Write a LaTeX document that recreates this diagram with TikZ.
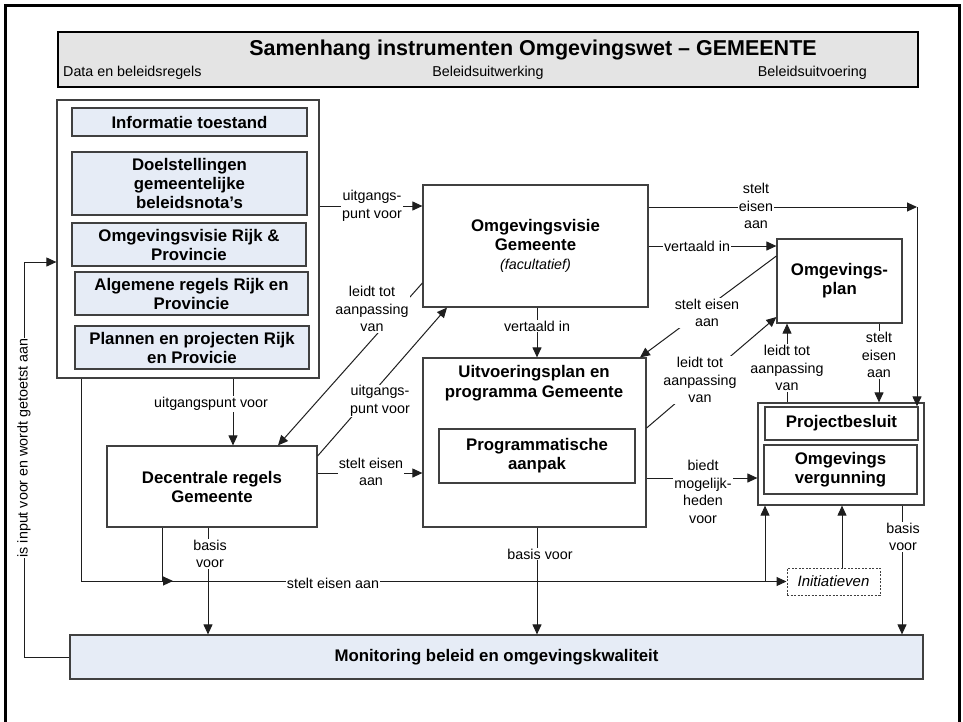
\documentclass[tikz,border=0pt]{standalone}
\usepackage{fontspec}
\setmainfont{Liberation Sans}
\usetikzlibrary{arrows.meta}
\definecolor{boxblue}{RGB}{230,236,246}
\definecolor{titlegray}{RGB}{228,228,228}
\definecolor{boxgray}{RGB}{64,64,64}
\definecolor{linegray}{RGB}{30,30,30}
\tikzset{
  box/.style={draw=boxgray, line width=1.2pt, align=center, inner sep=0pt,
    font=\bfseries\fontsize{16.8}{19}\selectfont},
  fbox/.style={box, fill=boxblue},
  lbl/.style={fill=white, align=center, inner sep=1pt,
    font=\fontsize{14.3}{17.5}\selectfont},
  arr/.style={draw=linegray, line width=1pt, -{Triangle[length=10pt,width=9pt]}},
  ln/.style={draw=linegray, line width=1pt},
}
\begin{document}
\begin{tikzpicture}[x=1pt,y=-1pt]
\useasboundingbox (0,0) rectangle (963,721);
% frame
\begin{scope}
\clip (0,0) rectangle (963,721);
\draw[line width=3.5pt] (5.5,5.5) rectangle (959.5,730);
\end{scope}
% title
\node[draw=black, line width=2pt, fill=titlegray, minimum width=860, minimum height=55] (title) at (488,59.5) {};
\node[font=\bfseries\fontsize{21.5}{24}\selectfont] (ttext) at (533,50) {Samenhang instrumenten Omgevingswet – GEMEENTE};
\node[anchor=base west, inner sep=0pt, font=\fontsize{14.3}{17}\selectfont] (sub1) at (63,76) {Data en beleidsregels};
\node[anchor=base, inner sep=0pt, font=\fontsize{14.3}{17}\selectfont] (sub2) at (488,76) {Beleidsuitwerking};
\node[anchor=base east, inner sep=0pt, font=\fontsize{14.3}{17}\selectfont] (sub3) at (867,76) {Beleidsuitvoering};

% left stack
\node[box, fill=white, minimum width=262, minimum height=278] (leftbox) at (188,239) {};
\node[fbox, minimum width=235, minimum height=28] (info) at (189.5,122) {Informatie toestand};
\node[fbox, minimum width=235, minimum height=63] (doel) at (189.5,183.5) {Doelstellingen\\gemeentelijke\\beleidsnota’s};
\node[fbox, minimum width=234, minimum height=43] (ovrijk) at (189,244.5) {Omgevingsvisie Rijk \&\\Provincie};
\node[fbox, minimum width=233, minimum height=43] (alg) at (191.5,293.5) {Algemene regels Rijk en\\Provincie};
\node[fbox, minimum width=234, minimum height=43] (plan) at (192,347.5) {Plannen en projecten Rijk\\en Provicie};

% middle
\node[box, minimum width=225, minimum height=122] (ovg) at (535.5,246) {Omgevingsvisie\\Gemeente\\{\normalfont\itshape\fontsize{14.3}{17}\selectfont (facultatief)}};
\node[box, minimum width=223, minimum height=169] (uitv) at (534.5,442.5) {};
\node[font=\bfseries\fontsize{16.8}{19.5}\selectfont, align=center, inner sep=0pt] (uitvt) at (534,383) {Uitvoeringsplan en\\programma Gemeente};
\node[box, minimum width=196, minimum height=54] (prog) at (537,456) {Programmatische\\aanpak};
\node[box, minimum width=210, minimum height=81] (dec) at (212,486.5) {Decentrale regels\\Gemeente};

% right
\node[box, minimum width=125, minimum height=84] (oplan) at (839.5,281) {Omgevings-\\plan};
\node[box, minimum width=166, minimum height=102] (pbo) at (841,454) {};
\node[box, minimum width=153, minimum height=33] (pb) at (841.5,423.5) {Projectbesluit};
\node[box, minimum width=153, minimum height=49] (ov) at (840.5,469.5) {Omgevings\\vergunning};
\node[draw=boxgray, line width=1pt, dashed, dash pattern=on 2pt off 1.5pt, minimum width=93, minimum height=27, inner sep=0pt,
  font=\itshape\fontsize{15}{17}\selectfont] (init) at (833.5,581.5) {Initiatieven};

% bottom
\node[fbox, minimum width=853, minimum height=44] (mon) at (496.5,657) {Monitoring beleid en omgevingskwaliteit};

% coordinates
\coordinate (c1) at (917,207);
\coordinate (j1) at (173,581);
\coordinate (j2) at (765,581);

% connectors
\draw[arr] (leftbox.east |- 0,206) -- (ovg.west |- 0,206);
\draw[arr] (ovg.east |- c1) -- (c1);
\draw[arr] (c1) -- (c1 |- pb.north);
\draw[arr] (ovg.east |- 0,246) -- (oplan.west |- 0,246);
\draw[arr] (oplan.west |- 0,256) -- (640,0 |- uitv.north);
\draw[arr] (uitv.east |- 0,428) -- (oplan.west |- 0,317);
\draw[arr] (787,0 |- pbo.north) -- (787,0 |- oplan.south);
\draw[arr] (879,0 |- oplan.south) -- (879,0 |- pbo.north);
\draw[arr] (uitv.east |- 0,478) -- (pbo.west |- 0,478);
\draw[arr] (ovg.west |- 0,283) -- (278,0 |- dec.north);
\draw[arr] (dec.east |- 0,456) -- (447,0 |- ovg.south);
\draw[arr] (233,0 |- leftbox.south) -- (233,0 |- dec.north);
\draw[arr] (dec.east |- 0,473) -- (uitv.west |- 0,473);
\draw[arr] (537,0 |- ovg.south) -- (537,0 |- uitv.north);
\draw[arr] (537,0 |- uitv.south) -- (537,0 |- mon.north);
\draw[arr] (208,0 |- dec.south) -- (208,0 |- mon.north);
\draw[arr] (902,0 |- pbo.south) -- (902,0 |- mon.north);
\draw[arr] (162,0 |- dec.south) |- (j1);
\draw[arr] (81,0 |- leftbox.south) |- (init.west);
\draw[arr] (j2) -- (j2 |- pbo.south);
\draw[arr] (init.north -| 842,0) -- (842,0 |- pbo.south);
\draw[arr] (mon.west) -| (24,262) -- (leftbox.west |- 0,262);

% labels
\node[lbl] (l1) at (372,206) {uitgangs-\\punt voor};
\node[lbl] (l2) at (756,206) {stelt\\eisen\\aan};
\node[lbl] (l3) at (697,246) {vertaald in};
\node[lbl] (l4) at (707,313) {stelt eisen\\aan};
\node[lbl] (l5) at (700,380) {leidt tot\\aanpassing\\van};
\node[lbl] (l6) at (787,368) {leidt tot\\aanpassing\\van};
\node[lbl] (l7) at (879,355) {stelt\\eisen\\aan};
\node[lbl] (l8) at (703,492) {biedt\\mogelijk-\\heden\\voor};
\node[lbl] (l9) at (372,309) {leidt tot\\aanpassing\\van};
\node[lbl] (l10) at (380,401) {uitgangs-\\punt voor};
\node[lbl] (l11) at (211,404) {uitgangspunt voor};
\node[lbl] (l12) at (371,472) {stelt eisen\\aan};
\node[lbl] (l13) at (537,326) {vertaald in};
\node[lbl] (l14) at (540,554) {basis voor};
\node[lbl] (l15) at (210,554) {basis\\voor};
\node[lbl] (l16) at (903,537) {basis\\voor};
\node[lbl] (l17) at (333,583) {stelt eisen aan};
\node[lbl, rotate=90] (l18) at (24,448) {is input voor en wordt getoetst aan};
\end{tikzpicture}
\end{document}
